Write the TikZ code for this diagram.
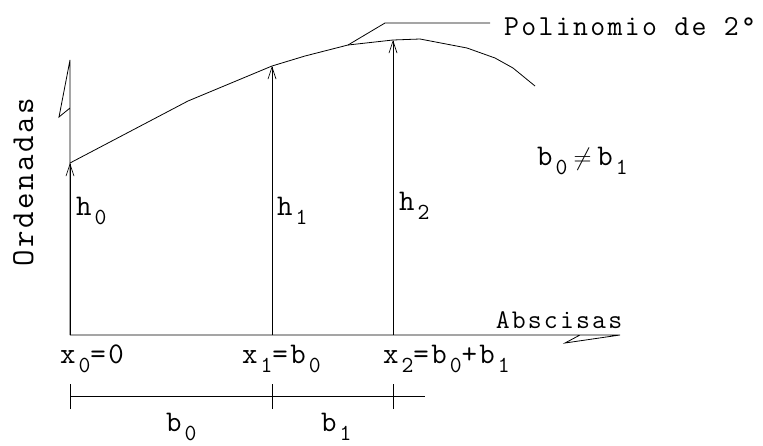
\documentclass[tikz,border=0pt]{standalone}
\usepackage{fontspec}
\setmonofont[LetterSpace=8]{Latin Modern Mono}
\usetikzlibrary{arrows.meta}
\newcommand{\idx}[2]{#1\kern3pt\raisebox{-9pt}{\fontsize{23}{23}\selectfont #2}}
\begin{document}
\begin{tikzpicture}[x=1pt, y=-1pt,
		every node/.style={inner sep=0pt, font=\ttfamily\fontsize{30}{32}\selectfont},
		line/.style={line width=0.8pt},
		ordinate/.style={line width=0.8pt, -{Straight Barb[length=12pt,width=8pt,line width=0.7pt]}},
	]
	\useasboundingbox (0,0) rectangle (763,445);

	% axes
	\coordinate (O) at (70,335);
	\coordinate (ytip) at (70,60);
	\coordinate (xtip) at (620,335);
	\draw[line] (O) -- (ytip) -- (59,117) -- (70,108);
	\draw[line] (O) -- (xtip) -- (565,343) -- (580,335);

	% curve
	\coordinate (p0) at (70,163);
	\coordinate (p1) at (272,66);
	\coordinate (p2) at (393,40);
	\coordinate (lead) at (348,45);
	\draw[line] (p0) -- (188,101) -- (p1) -- (305,56) -- (lead) -- (p2)
		-- (420,39) -- (467,48) -- (495,58) -- (513,68) -- (535,86);

	% ordinates
	\coordinate (x1) at (272,335);
	\coordinate (x2) at (393,335);
	\draw[ordinate] (O) -- (p0);
	\draw[ordinate] (x1) -- (p1);
	\draw[ordinate] (x2) -- (p2);

	% labels
	\node[anchor=base west, font=\ttfamily\fontsize{29}{31}\selectfont] (poly) at (504,35) {Polinomio de 2°};
	\coordinate (bend) at (385,23);
	\coordinate (lend) at (490,23);
	\draw[line] (lead) -- (bend) -- (lend);
	\node[rotate=90, anchor=base, font=\ttfamily\fontsize{32}{34}\selectfont] (ord) at (33,182) {Ordenadas};
	\node[anchor=base, font=\ttfamily\fontsize{27}{29}\selectfont] (absc) at (559,328) {Abscisas};
	\node[anchor=base west] (h0) at (76,215) {\idx{h}{0}};
	\node[anchor=base west] (h1) at (277,215) {\idx{h}{1}};
	\node[anchor=base west] (h2) at (399,210) {\idx{h}{2}};
	\node[anchor=base west] (neq) at (537,165) {\idx{b}{0}\kern6pt$\neq$\kern6pt\idx{b}{1}};
	\node[anchor=base west] (lx0) at (60,363) {\idx{x}{0}=0};
	\node[anchor=base west] (lx1) at (242,363) {\idx{x}{1}=\idx{b}{0}};
	\node[anchor=base west] (lx2) at (383,363) {\idx{x}{2}=\idx{b}{0}+\idx{b}{1}};

	% spans
	\coordinate (d0) at (70,396);
	\coordinate (d1) at (272,396);
	\coordinate (d2) at (393,396);
	\coordinate (dend) at (425,396);
	\draw[line] (d0) -- (dend);
	\foreach \d in {d0,d1,d2}
		\draw[line] ([yshift=-13pt]\d) -- ([yshift=12pt]\d);
	\node[anchor=base west] (b0) at (166,431) {\idx{b}{0}};
	\node[anchor=base west] (b1) at (321,431) {\idx{b}{1}};
\end{tikzpicture}
\end{document}
